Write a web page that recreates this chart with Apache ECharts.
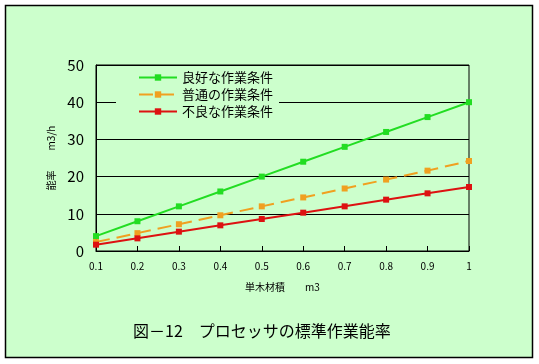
<!DOCTYPE html>
<html><head><meta charset="utf-8">
<script src="https://cdn.jsdelivr.net/npm/echarts@6/dist/echarts.min.js"></script>
<style>html,body{margin:0;padding:0;background:#fff}#c{width:539px;height:364px}</style>
</head><body><div id="c"></div>
<script>
const categories = ['0.1','0.2','0.3','0.4','0.5','0.6','0.7','0.8','0.9','1'];
const goodValues = [4, 8, 12, 16, 20, 24, 28, 32, 36, 40];
const normalValues = [2.4, 4.8, 7.2, 9.6, 12, 14.4, 16.8, 19.2, 21.6, 24.2];
const poorValues = [1.7, 3.4, 5.2, 6.9, 8.6, 10.3, 12, 13.8, 15.5, 17.2];
const seriesNames = ['良好な作業条件', '普通の作業条件', '不良な作業条件'];
const titleText = '図－12　プロセッサの標準作業能率';
const xName = '単木材積　　m3';
const yName = '能率　　m3/h';

const font = "'Noto Sans CJK JP', 'Noto Sans', sans-serif";
const chart = echarts.init(document.getElementById('c'));
chart.setOption({
  backgroundColor: '#ffffff',
  animation: false,
  textStyle: { fontFamily: font },
  graphic: [{
    type: 'rect', z: -10, silent: true,
    shape: { x: 5.5, y: 5.5, width: 527, height: 352 },
    style: { fill: '#ccffcc', stroke: '#000', lineWidth: 1.5 }
  }],
  title: {
    text: titleText, left: 128, top: 318,
    textStyle: { fontSize: 16, fontWeight: 'normal', color: '#000', fontFamily: font }
  },
  legend: {
    orient: 'vertical', left: 116, top: 67,
    backgroundColor: '#ccffcc',
    padding: [4, 6, 6, 22],
    itemWidth: 38, itemHeight: 8, itemGap: 4,
    textStyle: { fontSize: 13, color: '#000', padding: [0, 0, 0, 0] },
    data: seriesNames
  },
  grid: {
    left: 96, right: 70, top: 65, bottom: 113,
    show: true, borderColor: '#000', borderWidth: 1, backgroundColor: '#ccffcc'
  },
  xAxis: {
    type: 'category', data: categories, boundaryGap: false,
    name: xName, nameLocation: 'middle', nameGap: 31,
    nameTextStyle: { fontSize: 10, color: '#000' },
    axisLine: { lineStyle: { color: '#000', width: 1 } },
    axisTick: { inside: true, length: 5, lineStyle: { color: '#000' } },
    axisLabel: { fontSize: 10, color: '#000', margin: 10 },
    splitLine: { show: false }
  },
  yAxis: {
    type: 'value', min: 0, max: 50, interval: 10,
    name: yName, nameLocation: 'middle', nameGap: 40, nameRotate: 90,
    nameTextStyle: { fontSize: 10, color: '#000' },
    axisLine: { show: true, lineStyle: { color: '#000' } },
    axisTick: { show: false },
    axisLabel: { fontSize: 15, color: '#000', margin: 12 },
    splitLine: { lineStyle: { color: '#000', width: 1 } }
  },
  series: [
    { name: seriesNames[0], type: 'line', data: goodValues, symbol: 'rect', symbolSize: 6,
      itemStyle: { color: '#22dd22' }, lineStyle: { color: '#22dd22', width: 2 } },
    { name: seriesNames[1], type: 'line', data: normalValues, symbol: 'rect', symbolSize: 6,
      itemStyle: { color: '#f0a020' }, lineStyle: { color: '#f0a020', width: 2, type: [14, 7] } },
    { name: seriesNames[2], type: 'line', data: poorValues, symbol: 'rect', symbolSize: 6,
      itemStyle: { color: '#dd1111' }, lineStyle: { color: '#dd1111', width: 2 } }
  ]
});
</script></body></html>
